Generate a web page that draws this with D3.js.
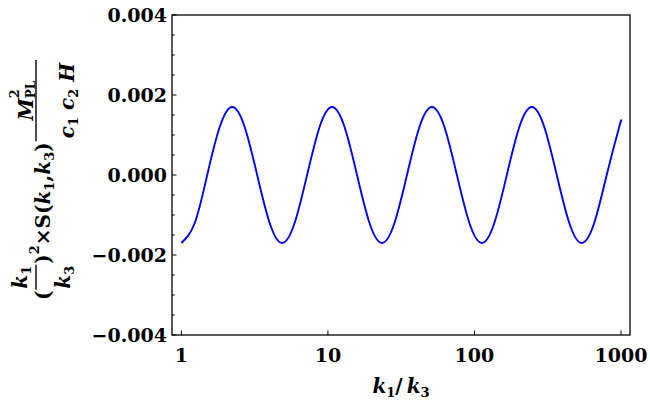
<!DOCTYPE html>
<html>
<head>
<meta charset="utf-8">
<script src="https://cdn.jsdelivr.net/npm/d3@7"></script>
<style>
  html, body { margin: 0; padding: 0; background: #fff; }
  svg { display: block; }
  text { font-family: "DejaVu Serif", serif; font-weight: bold; fill: #000; }
</style>
</head>
<body>
<svg id="chart" width="650" height="405"></svg>
<script>
// k1/k3 values (log axis)
var ratio = [1, 1.234, 1.501, 1.827, 2.222, 2.704, 3.290, 4.003,
  4.870, 5.926, 7.210, 8.772, 10.67, 12.99, 15.80, 19.22,
  23.39, 28.46, 34.63, 42.13, 51.26, 62.37, 75.89, 92.34,
  112.4, 136.7, 166.3, 202.4, 246.2, 299.6, 364.5, 443.6,
  539.7, 656.7, 799.0, 972.1, 1000];
// (k1/k3)^2 S M_PL^2/(c1 c2 H)
var shape = [-0.0017, -0.0012, 0, 0.0012, 0.0017, 0.0012, 0, -0.0012,
  -0.0017, -0.0012, 0, 0.0012, 0.0017, 0.0012, 0, -0.0012,
  -0.0017, -0.0012, 0, 0.0012, 0.0017, 0.0012, 0, -0.0012,
  -0.0017, -0.0012, 0, 0.0012, 0.0017, 0.0012, 0, -0.0012,
  -0.0017, -0.0012, 0, 0.0012, 0.00133];

var yTicks = [-0.004, -0.002, 0, 0.002, 0.004];
var yTickLabels = ['\u22120.004', '\u22120.002', '0.000', '0.002', '0.004'];
var xTicks = [1, 10, 100, 1000];
var xTickLabels = ['1', '10', '100', '1000'];

var box = { left: 172, right: 630, top: 15, bottom: 335 };
var FS = 20, SS = 13;

var svg = d3.select('#chart');

var x = d3.scaleLog().domain([0.863, 1152]).range([box.left, box.right]);
var y = d3.scaleLinear().domain([-0.004, 0.004]).range([box.bottom, box.top]);

// frame
svg.append('rect')
  .attr('x', box.left).attr('y', box.top)
  .attr('width', box.right - box.left).attr('height', box.bottom - box.top)
  .attr('fill', 'none').attr('stroke', '#000').attr('stroke-width', 1.3);

// left ticks: minor + major
svg.append('g').selectAll('line')
  .data(y.ticks(16))
  .enter().append('line')
  .attr('x1', box.left)
  .attr('x2', function(d) { return box.left + (yTicks.some(function(t) { return Math.abs(t - d) < 1e-9; }) ? 4.5 : 2.8); })
  .attr('y1', function(d) { return y(d); }).attr('y2', function(d) { return y(d); })
  .attr('stroke', '#000').attr('stroke-width', 1);

svg.append('g').selectAll('text')
  .data(yTicks)
  .enter().append('text')
  .attr('x', box.left - 5)
  .attr('y', function(d) { return y(d); })
  .attr('dy', '0.36em')
  .attr('text-anchor', 'end')
  .attr('font-size', 19)
  .text(function(d, i) { return yTickLabels[i]; });

// bottom ticks
svg.append('g').selectAll('line')
  .data(xTicks)
  .enter().append('line')
  .attr('x1', function(d) { return x(d); }).attr('x2', function(d) { return x(d); })
  .attr('y1', box.bottom).attr('y2', box.bottom - 4.5)
  .attr('stroke', '#000').attr('stroke-width', 1);

svg.append('g').selectAll('text')
  .data(xTicks)
  .enter().append('text')
  .attr('x', function(d) { return x(d); })
  .attr('y', 362)
  .attr('text-anchor', 'middle')
  .attr('font-size', 19)
  .text(function(d, i) { return xTickLabels[i]; });

// curve
var pts = ratio.map(function(r, i) { return [r, shape[i]]; });
svg.append('path')
  .datum(pts)
  .attr('fill', 'none')
  .attr('stroke', '#0000ff')
  .attr('stroke-width', 1.9)
  .attr('d', d3.line()
    .x(function(d) { return x(d[0]); })
    .y(function(d) { return y(d[1]); })
    .curve(d3.curveNatural));

// helpers for math-like labels
function row(parent, parts, baseV) {
  var rg = parent.append('g'), w = 0, hold = 0;
  parts.forEach(function(p) {
    var t = rg.append('text')
      .attr('x', w).attr('y', baseV + (p.dv || 0))
      .attr('font-size', p.size || FS)
      .text(p.s);
    if (p.it) t.attr('font-style', 'italic');
    var tw = t.node().getComputedTextLength();
    if (p.hold) { hold = tw; return; }
    w += Math.max(tw, hold) + (p.gap || 0);
    hold = 0;
  });
  return { g: rg, w: w };
}

function frac(parent, u0, num, den, barV, numV, denV, pad) {
  var a = row(parent, num, numV), b = row(parent, den, denV);
  var bw = Math.max(a.w, b.w) + 2 * pad;
  a.g.attr('transform', 'translate(' + (u0 + (bw - a.w) / 2) + ',0)');
  b.g.attr('transform', 'translate(' + (u0 + (bw - b.w) / 2) + ',0)');
  parent.append('line')
    .attr('x1', u0).attr('x2', u0 + bw)
    .attr('y1', barV).attr('y2', barV)
    .attr('stroke', '#000').attr('stroke-width', 1.4);
  return bw;
}

// y axis label (rotated)
var yl = svg.append('g');
var u = 0, r;
r = row(yl, [{ s: '(' }], 0); u += r.w + 1;
u += frac(yl, u,
  [{ s: 'k', it: true }, { s: '1', size: SS, dv: 4 }],
  [{ s: 'k', it: true }, { s: '3', size: SS, dv: 4 }],
  -14, -23, 20, 1) + 1;
r = row(yl, [{ s: ')' }], 0); r.g.attr('transform', 'translate(' + u + ',0)'); u += r.w;
r = row(yl, [{ s: '2', size: SS, dv: -11 }], 0); r.g.attr('transform', 'translate(' + u + ',0)'); u += r.w;
r = row(yl, [{ s: '\u00d7S(' }, { s: 'k', it: true }, { s: '1', size: SS, dv: 4 }, { s: ',' },
  { s: 'k', it: true }, { s: '3', size: SS, dv: 4 }, { s: ')' }], 0);
r.g.attr('transform', 'translate(' + u + ',0)'); u += r.w + 1;
u += frac(yl, u,
  [{ s: 'M', it: true }, { s: '2', size: SS, dv: -14, hold: true }, { s: 'PL', size: 12, dv: 2 }],
  [{ s: 'c', it: true }, { s: '1', size: SS, dv: 4, gap: 7 }, { s: 'c', it: true }, { s: '2', size: SS, dv: 4, gap: 7 }, { s: 'H', it: true }],
  -14, -17, 24, 3);
yl.attr('transform', 'translate(50,' + (180 + u / 2) + ') rotate(-90)');

// x axis label
var xl = svg.append('g');
var xr = row(xl, [{ s: 'k', it: true }, { s: '1', size: SS, dv: 4 }, { s: '/', gap: 4 },
  { s: 'k', it: true }, { s: '3', size: SS, dv: 4 }], 393);
xl.attr('transform', 'translate(' + ((box.left + box.right) / 2 - xr.w / 2) + ',0)');
</script>
</body>
</html>
